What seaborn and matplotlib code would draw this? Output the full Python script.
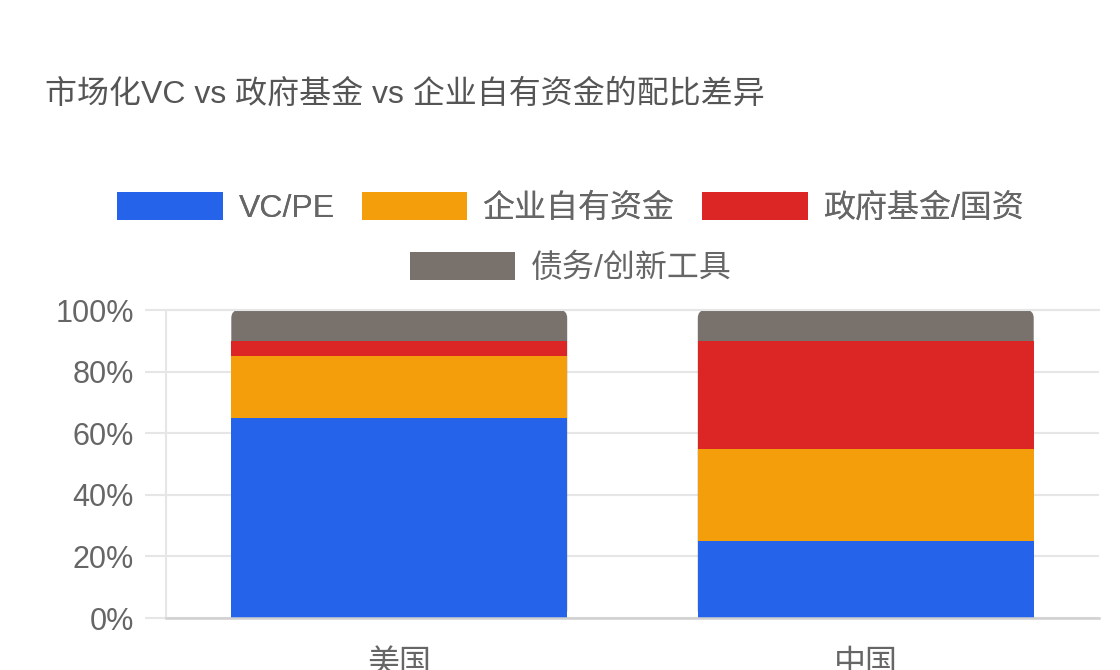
import numpy as np
import pandas as pd
import matplotlib
matplotlib.use('Agg')
import matplotlib.pyplot as plt
import seaborn as sns
from matplotlib.patches import FancyBboxPatch, Patch

# chart data
countries = ['美国', '中国']
series_names = ['VC/PE', '企业自有资金', '政府基金/国资', '债务/创新工具']
vc_pe = [65, 25]
corp_own = [20, 30]
gov_fund = [5, 35]
debt_tools = [10, 10]
y_ticks = [0, 20, 40, 60, 80, 100]
title = '市场化VC vs 政府基金 vs 企业自有资金的配比差异'

colors = ['#2563EB', '#F59E0B', '#DC2626', '#78716C']
text_color = '#666666'
grid_color = '#e6e6e6'

sns.set_theme(style='white')
plt.rcParams['font.family'] = ['Liberation Sans', 'Noto Sans CJK SC', 'DejaVu Sans']

df = pd.DataFrame({'country': countries,
                   series_names[0]: vc_pe,
                   series_names[1]: corp_own,
                   series_names[2]: gov_fund,
                   series_names[3]: debt_tools})
cum = df[series_names].cumsum(axis=1)
cum['country'] = df['country']

W, H = 1120, 670
fig = plt.figure(figsize=(W / 100, H / 100), dpi=100)
ax = fig.add_axes([166 / W, 52 / H, 933 / W, 308 / H])

# stacked bars: draw the running totals from the top segment down
top_patches = []
for i in reversed(range(len(series_names))):
    n_before = len(ax.patches)
    sns.barplot(data=cum, x='country', y=series_names[i], order=countries,
                color=colors[i], saturation=1, width=0.72, errorbar=None,
                linewidth=0, ax=ax)
    if i == len(series_names) - 1:
        top_patches = list(ax.patches[n_before:])

ax.set_xlim(-0.5, len(countries) - 0.5)
ax.set_ylim(0, 100)
ax.set_xlabel('')
ax.set_ylabel('')

# rounded top corners on the stack
p0 = ax.transData.transform((0, 0))
p1 = ax.transData.transform((1, 1))
px_x, px_y = p1[0] - p0[0], p1[1] - p0[1]
r_px = 8
r = r_px / px_x
for p in top_patches:
    rb = FancyBboxPatch((p.get_x(), p.get_y()), p.get_width(), p.get_height(),
                        boxstyle=f'round,pad=0,rounding_size={r}',
                        mutation_aspect=px_x / px_y,
                        facecolor=p.get_facecolor(), linewidth=0, zorder=0.9)
    p.remove()
    ax.add_patch(rb)

ax.set_axisbelow(True)
ax.yaxis.grid(True, color=grid_color, linewidth=1.5)
ax.xaxis.grid(False)
ax.set_yticks(y_ticks)
ax.set_yticklabels([f'{v}%' for v in y_ticks])
ax.tick_params(axis='y', left=True, length=15, width=1.5, color=grid_color,
               pad=8, labelsize=22, labelcolor=text_color)
ax.tick_params(axis='x', length=0, pad=22, labelsize=23, labelcolor=text_color)

ax.spines['right'].set_visible(False)
ax.spines['top'].set_color(grid_color)
ax.spines['top'].set_linewidth(1.5)
ax.spines['left'].set_color(grid_color)
ax.spines['left'].set_linewidth(1.5)
ax.spines['bottom'].set_color('#d0d0d0')
ax.spines['bottom'].set_linewidth(1.8)

# title
fig.text(45 / W, 1 - 95 / H, title, fontsize=23, color='#555555',
         ha='left', va='center')

# legend in two centred rows
handles = [Patch(facecolor=c, edgecolor='none') for c in colors]
leg_kw = dict(frameon=False, fontsize=23, labelcolor=text_color,
              handlelength=3.3, handleheight=1.0, handletextpad=0.5,
              columnspacing=0.85, borderpad=0, borderaxespad=0, loc='center')
leg1 = fig.legend(handles[:3], series_names[:3], ncol=3,
                  bbox_to_anchor=(571 / W, 1 - 208 / H), **leg_kw)
fig.add_artist(leg1)
fig.legend(handles[3:], series_names[3:], ncol=1,
           bbox_to_anchor=(571 / W, 1 - 268 / H), **leg_kw)

fig.savefig('out.png', dpi=100)
